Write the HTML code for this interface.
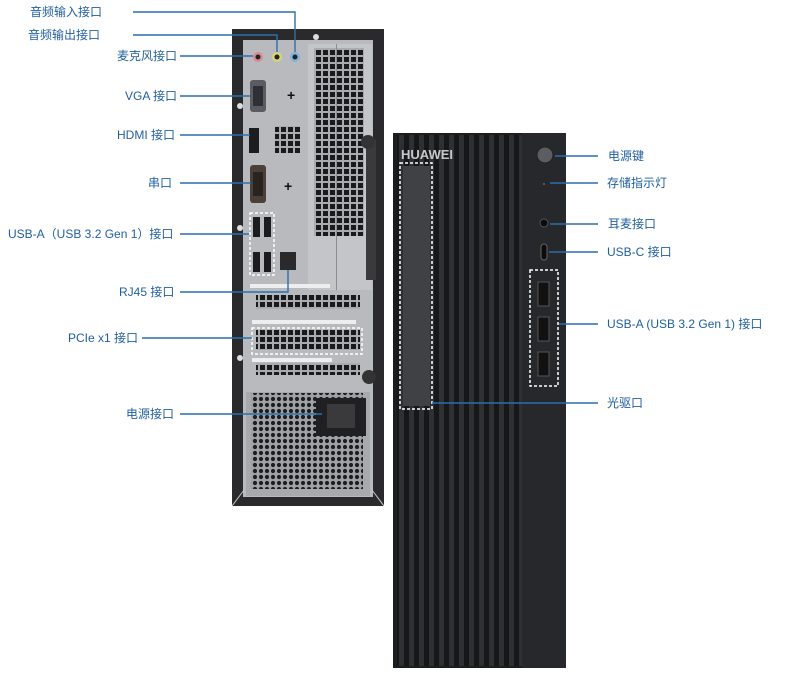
<!DOCTYPE html>
<html><head><meta charset="utf-8"><style>
html,body{margin:0;padding:0;background:#fff;}
svg{display:block}
text{font-family:"Liberation Sans","Noto Sans CJK SC",sans-serif;font-size:12px;fill:#1f5e9e}
</style></head><body>
<svg width="800" height="679" viewBox="0 0 800 679" xmlns="http://www.w3.org/2000/svg">
<defs>
<pattern id="sq" x="0" y="0" width="7" height="7" patternUnits="userSpaceOnUse"><rect width="7" height="7" fill="#a9abae"/><rect x="1" y="1" width="5" height="5" fill="#1a1a1c"/></pattern>
<pattern id="hex" x="0" y="0" width="6" height="6" patternUnits="userSpaceOnUse"><rect width="6" height="6" fill="#9fa1a4"/><circle cx="3" cy="3" r="2.1" fill="#1e1e20"/></pattern>
<pattern id="slat" x="398" y="0" width="10" height="10" patternUnits="userSpaceOnUse"><rect width="10" height="10" fill="#161719"/><rect x="1" width="5" height="10" fill="#2e3034"/></pattern>
</defs>
<rect x="232" y="29" width="152" height="477" fill="#2a2a2c"/>
<rect x="243" y="40" width="130" height="457" fill="#b8babd"/>
<rect x="308" y="44" width="64" height="246" fill="#c3c5c8"/>
<rect x="314" y="48" width="50" height="188" fill="url(#sq)"/>
<rect x="336" y="44" width="1" height="246" fill="#8a8c8f"/>
<circle cx="316" cy="37" r="3" fill="#ddd"/>
<circle cx="258" cy="57" r="5" fill="#d88a92"/><circle cx="258" cy="57" r="2.5" fill="#222"/>
<circle cx="277" cy="57" r="5" fill="#d6d47a"/><circle cx="277" cy="57" r="2.5" fill="#222"/>
<circle cx="295" cy="57" r="5" fill="#7fb4dc"/><circle cx="295" cy="57" r="2.5" fill="#222"/>
<rect x="250" y="80" width="16" height="32" rx="3" fill="#5a5c62"/><rect x="253" y="86" width="10" height="20" fill="#2e3036"/>
<text x="287" y="100" style="font-size:14px;fill:#111;font-weight:bold">+</text>
<rect x="249" y="128" width="10" height="25" fill="#1d1d1f"/>
<rect x="275" y="126" width="25" height="27" fill="url(#sq)"/>
<rect x="250" y="165" width="16" height="38" rx="3" fill="#4a4038"/><rect x="253" y="172" width="10" height="24" fill="#2a2420"/>
<text x="284" y="191" style="font-size:14px;fill:#111;font-weight:bold">+</text>
<rect x="250" y="213" width="24" height="62" fill="none" stroke="#fff" stroke-width="1.5" stroke-dasharray="3,2"/>
<rect x="253" y="217" width="7" height="20" fill="#1c1c1e"/><rect x="264" y="217" width="7" height="20" fill="#1c1c1e"/>
<rect x="253" y="252" width="7" height="20" fill="#1c1c1e"/><rect x="264" y="252" width="7" height="20" fill="#1c1c1e"/>
<rect x="280" y="252" width="16" height="18" fill="#2a2a2c"/>
<circle cx="240" cy="228" r="3" fill="#ddd"/><circle cx="240" cy="106" r="3" fill="#ddd"/><circle cx="240" cy="358" r="3" fill="#ddd"/>
<rect x="250" y="284" width="80" height="4" fill="#eee"/>
<rect x="256" y="295" width="104" height="14" fill="url(#sq)"/>
<rect x="252" y="320" width="104" height="4" fill="#eee"/>
<rect x="256" y="330" width="104" height="20" fill="url(#sq)"/>
<rect x="252" y="328" width="110" height="26" fill="none" stroke="#fff" stroke-width="1.5" stroke-dasharray="3,2"/>
<rect x="252" y="358" width="80" height="4" fill="#eee"/>
<rect x="256" y="363" width="104" height="12" fill="url(#sq)"/>
<rect x="366" y="140" width="10" height="140" fill="#3a3a3c"/>
<circle cx="368" cy="142" r="7" fill="#333"/><circle cx="369" cy="377" r="7" fill="#333"/>
<rect x="246" y="392" width="124" height="104" fill="#a7a9ac"/>
<rect x="251" y="393" width="112" height="96" fill="url(#hex)"/>
<rect x="316" y="398" width="50" height="38" fill="#202022"/>
<rect x="327" y="404" width="28" height="24" fill="#3a3a3c"/>
<path d="M232 506 L244 490 M384 506 L372 490" stroke="#ccc" stroke-width="1"/>
<rect x="393" y="133" width="173" height="535" fill="#1c1d1f"/>
<rect x="397" y="135" width="125" height="531" fill="url(#slat)"/>
<rect x="522" y="133" width="44" height="535" fill="#27282b"/>
<text x="401" y="159" style="fill:#c8c8c8;font-weight:bold;font-size:13px">HUAWEI</text>
<rect x="403" y="166" width="27" height="240" fill="#3f4145"/>
<rect x="400" y="163" width="32" height="246" fill="none" stroke="#fff" stroke-width="1.5" stroke-dasharray="3,2"/>
<circle cx="545" cy="155" r="8" fill="#5b5d60" stroke="#222"/>
<circle cx="544" cy="184" r="1" fill="#666"/>
<circle cx="544" cy="223" r="4" fill="#0b0b0c" stroke="#555"/>
<rect x="541" y="244" width="6" height="16" rx="3" fill="#0b0b0c" stroke="#666"/>
<rect x="530" y="270" width="28" height="116" fill="none" stroke="#fff" stroke-width="1.5" stroke-dasharray="3,2"/>
<rect x="538" y="282" width="11" height="24" fill="#111" stroke="#555"/>
<rect x="538" y="317" width="11" height="24" fill="#111" stroke="#555"/>
<rect x="538" y="352" width="11" height="24" fill="#111" stroke="#555"/>
<g stroke="#2a6fb0" stroke-width="1.4" fill="none">
<path d="M133 12 H295 V52"/><path d="M133 35 H277 V52"/><path d="M180 56 H253"/>
<path d="M180 96 H250"/><path d="M180 135 H250"/><path d="M180 183 H251"/>
<path d="M180 234 H249"/><path d="M180 292 H288 V270"/><path d="M142 338 H252"/>
<path d="M180 414 H322"/>
<path d="M555 156 H598"/><path d="M550 183 H598"/><path d="M550 224 H598"/>
<path d="M549 252 H598"/><path d="M559 324 H598"/><path d="M432 403 H598"/>
</g>
<text x="30" y="16">音频输入接口</text>
<text x="28" y="39">音频输出接口</text>
<text x="117" y="60">麦克风接口</text>
<text x="125" y="100">VGA 接口</text>
<text x="117" y="139">HDMI 接口</text>
<text x="148" y="187">串口</text>
<text x="8" y="238">USB-A（USB 3.2 Gen 1）接口</text>
<text x="119" y="296">RJ45 接口</text>
<text x="68" y="342">PCIe x1 接口</text>
<text x="126" y="418">电源接口</text>
<text x="608" y="160">电源键</text>
<text x="607" y="187">存储指示灯</text>
<text x="608" y="228">耳麦接口</text>
<text x="607" y="256">USB-C 接口</text>
<text x="607" y="328">USB-A (USB 3.2 Gen 1) 接口</text>
<text x="607" y="407">光驱口</text>
</svg>
</body></html>
